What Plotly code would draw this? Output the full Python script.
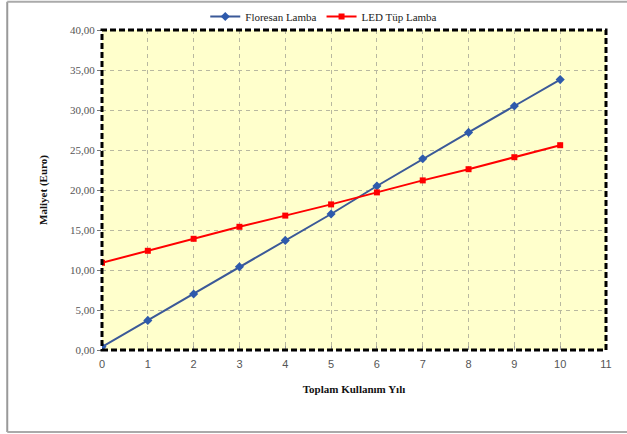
import plotly.graph_objects as go

# data
years = [0, 1, 2, 3, 4, 5, 6, 7, 8, 9, 10]
floresan = [0.4, 3.7, 7.0, 10.4, 13.7, 17.0, 20.5, 23.9, 27.2, 30.5, 33.8]
led = [10.9, 12.4, 13.9, 15.4, 16.8, 18.2, 19.7, 21.2, 22.6, 24.1, 25.6]

serif = "Liberation Serif"

fig = go.Figure()
fig.add_trace(go.Scatter(
    x=years, y=floresan, name="Floresan Lamba", mode="lines+markers",
    line=dict(color="#3B5998", width=2),
    marker=dict(symbol="diamond", size=7, color="#2E5AAC"),
))
fig.add_trace(go.Scatter(
    x=years, y=led, name="LED Tüp Lamba", mode="lines+markers",
    line=dict(color="#FF0000", width=2),
    marker=dict(symbol="square", size=6, color="#FF0000"),
))

fig.update_layout(
    width=627, height=434,
    margin=dict(l=102, r=21, t=30, b=84, autoexpand=False),
    paper_bgcolor="white",
    plot_bgcolor="#FFFFCC",
    separators=",.",
    showlegend=True,
    legend=dict(
        orientation="h", x=0.44, y=0.962, xanchor="center", yanchor="middle",
        yref="container",
        font=dict(family=serif, size=11, color="#222"),
        bgcolor="rgba(0,0,0,0)",
        itemwidth=30,
    ),
    xaxis=dict(
        range=[0, 11], dtick=1, tick0=0, automargin=False,
        showgrid=True, gridcolor="#B8B8A0", griddash="4px,4px", gridwidth=1,
        zeroline=False, showline=False,
        ticks="inside", ticklen=4, tickcolor="#999",
        ticklabelstandoff=6,
        tickfont=dict(family="Liberation Sans", size=11, color="#555"),
        title=dict(text="<b>Toplam Kullanım Yılı</b>", font=dict(family=serif, size=11, color="#111"),
                   standoff=16),
    ),
    yaxis=dict(
        range=[0, 40], dtick=5, tickformat=".2f", automargin=False,
        showgrid=True, gridcolor="#B8B8A0", griddash="4px,4px", gridwidth=1,
        zeroline=False, showline=False,
        ticks="outside", ticklen=4, tickcolor="#777",
        tickfont=dict(family=serif, size=11, color="#555"),
        title=dict(text="<b>Maliyet (Euro)</b>", font=dict(family=serif, size=11, color="#111"),
                   standoff=20),
    ),
)

# dashed black plot border
fig.add_shape(type="rect", xref="paper", yref="paper", x0=0, y0=0, x1=1, y1=1,
              line=dict(color="black", width=3, dash="6px,3px"), layer="above")

# outer grey frame
fig.add_shape(type="line", xref="paper", yref="paper", x0=-0.188, x1=-0.188, y0=1.088, y1=-0.256,
              line=dict(color="#999", width=2))
fig.add_shape(type="line", xref="paper", yref="paper", x0=-0.188, x1=1.05, y0=1.088, y1=1.088,
              line=dict(color="#AAA", width=2))
fig.add_shape(type="line", xref="paper", yref="paper", x0=-0.188, x1=1.05, y0=-0.256, y1=-0.256,
              line=dict(color="#AAA", width=2))

# drop the default page margin so the figure sits at the window origin
fig.write_html("out.html", config={"displayModeBar": False},
               post_script="document.body.style.margin='0';")
